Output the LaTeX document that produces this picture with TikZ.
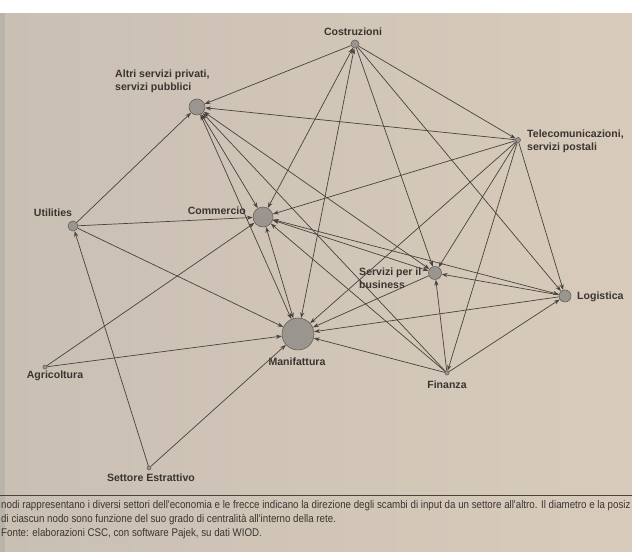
\documentclass[tikz,border=0pt]{standalone}
\usepackage{fontspec}
\setmainfont{Liberation Sans}
\newfontfamily\capfont[FakeStretch=0.875]{Liberation Sans}
\usetikzlibrary{arrows.meta,positioning}

\definecolor{paper}{RGB}{201,191,179}
\definecolor{paperlight}{RGB}{216,203,187}
\definecolor{paperedge}{RGB}{186,179,170}
\definecolor{vertex}{RGB}{155,149,143}
\definecolor{vertexline}{RGB}{100,95,90}
\definecolor{arcline}{RGB}{72,67,62}
\definecolor{ink}{RGB}{58,53,48}

\tikzset{
  sector/.style={circle, draw=vertexline, fill=vertex, line width=0.5pt,
    inner sep=0pt, minimum size=#1},
  lbl/.style={font=\bfseries\fontsize{9}{10.5}\selectfont, text=ink,
    inner sep=0pt, align=left},
  edgeio/.style={draw=arcline, line width=0.6pt,
    -{Stealth[length=5pt,width=3.5pt]}},
  edgebi/.style={edgeio,
    {Stealth[length=5pt,width=3.5pt]}-{Stealth[length=5pt,width=3.5pt]}},
  caption/.style={font=\capfont\fontsize{9.5}{11}\selectfont, text=ink,
    inner sep=0pt, anchor=base west},
}

\begin{document}
\begin{tikzpicture}[x=0.3mm,y=-0.3mm]
\useasboundingbox (0,0) rectangle (632,552);
\clip (0,0) rectangle (632,552);

% foglio
\shade[left color=paper, right color=paperlight] (0,13) rectangle (632,552);
\fill[white] (0,0) rectangle (632,13);
\fill[paperedge] (0,13) rectangle (5,552);

% settori
\node[sector=2.4mm] (cos) at (355,44) {};
\node[sector=4.8mm] (alt) at (197,107) {};
\node[sector=1.5mm] (tel) at (518,140) {};
\node[sector=3mm] (uti) at (73,226) {};
\node[sector=6mm] (com) at (263,217) {};
\node[sector=3.9mm] (ser) at (435,273) {};
\node[sector=3.6mm] (log) at (565,296) {};
\node[sector=9.6mm] (man) at (298,334) {};
\node[sector=1.2mm] (agr) at (45,367) {};
\node[sector=1.2mm] (fin) at (447,373) {};
\node[sector=1.2mm] (est) at (149,468) {};

% etichette
\node[lbl] (cos-l) at (353,32) {Costruzioni};
\node[lbl, anchor=north west] (alt-l) at (115,70) {Altri servizi privati,\\servizi pubblici};
\node[lbl, anchor=north west] (tel-l) at (527,130) {Telecomunicazioni,\\servizi postali};
\node[lbl] (uti-l) at (53,213) {Utilities};
\node[lbl, anchor=east] (com-l) at (246,211) {Commercio};
\node[lbl, anchor=north west] (ser-l) at (359,268) {Servizi per il\\business};
\node[lbl, anchor=west] (log-l) at (577,297) {Logistica};
\node[lbl] (man-l) at (297,362) {Manifattura};
\node[lbl] (agr-l) at (55,376) {Agricoltura};
\node[lbl] (fin-l) at (447,385) {Finanza};
\node[lbl] (est-l) at (151,478) {Settore Estrattivo};

% scambi di input
\draw[edgeio] (cos) -- (alt);
\draw[edgeio] (cos) -- (tel);
\draw[edgebi] (cos) -- (com);
\draw[edgebi] (cos) -- (man);
\draw[edgeio] (cos) -- (ser);
\draw[edgeio] (cos) -- (log);
\draw[edgeio] (tel) -- (alt);
\draw[edgeio] (tel) -- (com);
\draw[edgeio] (tel) -- (man);
\draw[edgeio] (tel) -- (ser);
\draw[edgeio] (tel) -- (fin);
\draw[edgeio] (tel) -- (log);
\draw[edgeio] (uti) -- (alt);
\draw[edgeio] (uti) -- (com);
\draw[edgeio] (uti) -- (man);
\draw[edgeio] (agr) -- (com);
\draw[edgeio] (agr) -- (man);
\draw[edgeio] (est) -- (uti);
\draw[edgeio] (est) -- (man);
\draw[edgebi] (alt) -- (com);
\draw[edgebi] (alt) -- (man);
\draw[edgebi] (alt) -- (ser);
\draw[edgeio] (fin) -- (alt);
\draw[edgebi] (com) -- (man);
\draw[edgebi] (com) -- (ser);
\draw[edgebi] (com) -- (log);
\draw[edgeio] (fin) -- (com);
\draw[edgeio] (ser) -- (man);
\draw[edgeio] (log) -- (man);
\draw[edgeio] (fin) -- (man);
\draw[edgeio] (log) -- (ser);
\draw[edgeio] (fin) -- (ser);
\draw[edgeio] (fin) -- (log);

% didascalia
\coordinate (sep-w) at (0,495);
\coordinate (sep-e) at (632,495);
\draw[arcline, line width=0.5pt] (sep-w) -- (sep-e);
\node[caption] (cap1) at (1,509) {nodi rappresentano i diversi settori dell'economia e le frecce indicano la direzione degli scambi di input da un settore all'altro. Il diametro e la posiz};
\node[caption] (cap2) at (1,523) {di ciascun nodo sono funzione del suo grado di centralità all'interno della rete.};
\node[caption] (cap3) at (1,537) {Fonte: elaborazioni CSC, con software Pajek, su dati WIOD.};
\end{tikzpicture}
\end{document}
